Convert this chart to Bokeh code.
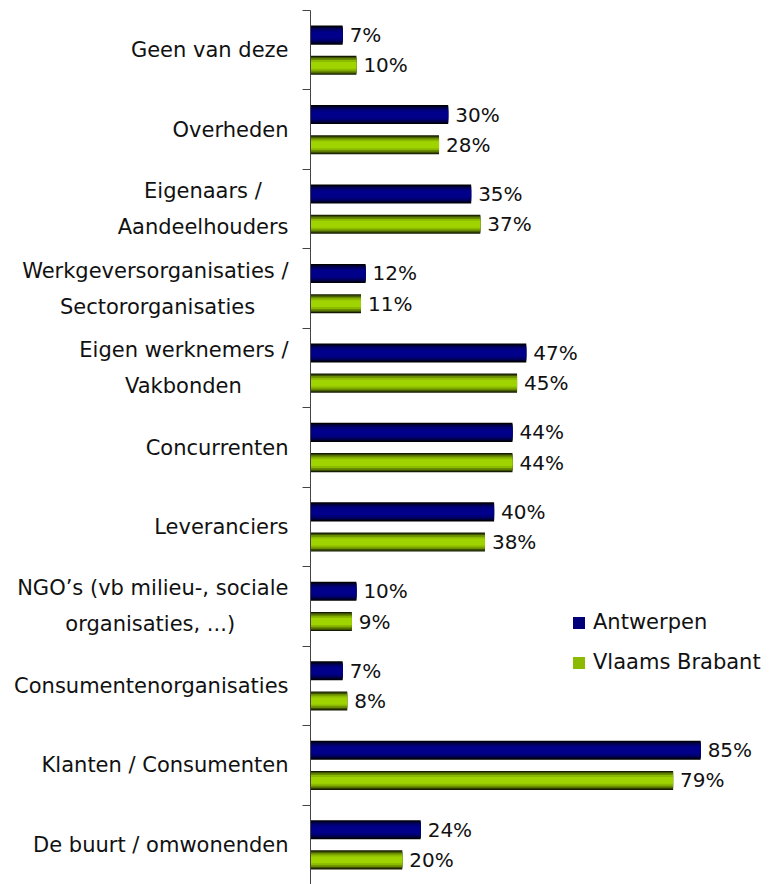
from bokeh.plotting import figure
from bokeh.models import (Range1d, LinearAxis, FixedTicker,
                          ColumnDataSource, Legend, LegendItem)
from bokeh.transform import dodge
from bokeh.core.properties import value
from bokeh.embed import file_html
from bokeh.resources import INLINE

# Data (top to bottom as shown in the chart)
categories = [
    "Geen van deze",
    "Overheden",
    "Eigenaars /\nAandeelhouders",
    "Werkgeversorganisaties /\nSectororganisaties",
    "Eigen werknemers /\nVakbonden",
    "Concurrenten",
    "Leveranciers",
    "NGO\u2019s (vb milieu-, sociale\norganisaties, ...)",
    "Consumentenorganisaties",
    "Klanten / Consumenten",
    "De buurt / omwonenden",
]
antwerpen = [7, 30, 35, 12, 47, 44, 40, 10, 7, 85, 24]
vlaams_brabant = [10, 28, 37, 11, 45, 44, 38, 9, 8, 79, 20]
series_names = ["Antwerpen", "Vlaams Brabant"]

FONT = "DejaVu Sans"
n = len(categories)
pos = [i + 0.5 for i in range(n)]   # category centres (slot index)


# approximate glyph widths (em) so that the lines of a two-line label can be centred
def _w(s):
    narrow = set("il.,'\u2019 t/()-rfj")
    wide = set("mwWMNGO")
    tot = 0.0
    for ch in s:
        tot += 0.32 if ch in narrow else (0.85 if ch in wide else 0.62)
    return tot


def centred(label):
    lines = label.split("\n")
    if len(lines) == 1:
        return label
    mx = max(_w(l) for l in lines)
    out = []
    for l in lines:
        pad = int(round((mx - _w(l)) / 2 / 0.318))
        out.append(l + "\u00a0" * pad)
    return "\n".join(out)


tick_labels = [centred(c) for c in categories]

src = ColumnDataSource(dict(
    pos=pos,
    a=antwerpen,
    b=vlaams_brabant,
    a_lbl=[f"{v}%" for v in antwerpen],
    b_lbl=[f"{v}%" for v in vlaams_brabant],
))

p = figure(width=769, height=884, output_backend="svg", toolbar_location=None,
           y_range=Range1d(n, 0), x_range=Range1d(0, 100),
           x_axis_location=None, y_axis_location=None,
           min_border_left=310, min_border_right=0, min_border_top=10, min_border_bottom=0)
p.outline_line_color = None
p.xgrid.visible = False
p.ygrid.visible = False

# tick-only axis at category boundaries
tick_axis = LinearAxis(ticker=FixedTicker(ticks=list(range(n + 1))),
                       major_tick_out=8, major_tick_in=0, minor_tick_line_color=None,
                       major_label_text_font_size="0px", major_label_standoff=0,
                       major_label_text_color=None,
                       axis_line_color="#444444", major_tick_line_color="#444444")
p.add_layout(tick_axis, "left")

cat_axis = LinearAxis(ticker=FixedTicker(ticks=pos),
                      major_label_overrides={c: lab for c, lab in zip(pos, tick_labels)},
                      axis_line_color=None, major_tick_line_color=None, minor_tick_line_color=None,
                      major_label_text_font=FONT, major_label_text_font_size="21px",
                      major_label_text_color="#111111", major_label_standoff=8,
                      major_label_text_line_height=1.5)
p.add_layout(cat_axis, "left")

BAR_H = 0.24
OFF = 0.19
blue_layers = [(1.0, "#000000"), (0.88, "#00002e"), (0.74, "#000058"), (0.56, "#000078"), (0.36, "#00008a")]
green_layers = [(1.0, "#141a00"), (0.88, "#3d5200"), (0.74, "#6a8c00"), (0.56, "#8cba00"), (0.36, "#9fd400")]

top_r = []
for frac, col in blue_layers:
    r = p.hbar(y=dodge("pos", -OFF), right="a", left=0, height=BAR_H * frac,
               source=src, fill_color=col, line_color=None)
    top_r.append(r)
bot_r = []
for frac, col in green_layers:
    r = p.hbar(y=dodge("pos", OFF), right="b", left=0, height=BAR_H * frac,
               source=src, fill_color=col, line_color=None)
    bot_r.append(r)

p.text(x="a", y=dodge("pos", -OFF), text="a_lbl", source=src,
       x_offset=7, text_baseline="middle", text_align="left",
       text_font=value(FONT), text_font_size="20px", text_color="#111111")
p.text(x="b", y=dodge("pos", OFF), text="b_lbl", source=src,
       x_offset=7, text_baseline="middle", text_align="left",
       text_font=value(FONT), text_font_size="20px", text_color="#111111")

legend = Legend(items=[LegendItem(label=series_names[0], renderers=[top_r[-2]]),
                       LegendItem(label=series_names[1], renderers=[bot_r[-2]])],
                location=(261, 210), orientation="vertical",
                border_line_color=None, background_fill_alpha=0,
                padding=0, margin=0, spacing=16, label_standoff=7,
                glyph_width=15, glyph_height=15, label_height=21,
                label_text_font=FONT, label_text_font_size="21px", label_text_color="#111111")
p.add_layout(legend)

open("out.html", "w").write(file_html(p, INLINE))
